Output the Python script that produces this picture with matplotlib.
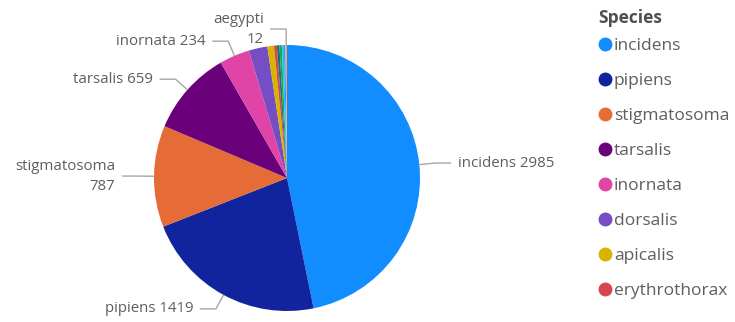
import numpy as np
import matplotlib
matplotlib.use("Agg")
import matplotlib.pyplot as plt
from matplotlib.lines import Line2D

plt.rcParams['font.family'] = ['Open Sans', 'DejaVu Sans']

# Species counts (sorted descending, drawn clockwise from the top)
species = ["incidens", "pipiens", "stigmatosoma", "tarsalis", "inornata",
           "dorsalis", "apicalis", "erythrothorax", "vexans", "melanimon",
           "particeps", "quinquefasciatus", "aegypti"]
counts = [2985, 1419, 787, 659, 234, 144, 51, 22, 20, 18, 15, 13, 12]
colors = ["#118DFF", "#12239E", "#E66C37", "#6B007B", "#E044A7", "#744EC2",
          "#D9B300", "#D64550", "#197278", "#1AAB40", "#15C6F4", "#4092FF",
          "#FFA058"]
# slice labels shown on the chart (None = no label)
slice_labels = ["incidens 2985", "pipiens 1419", "stigmatosoma\n787",
                "tarsalis 659", "inornata 234", None, None, None, None, None,
                None, None, "aegypti\n12"]
legend_names = species[:8]

fig = plt.figure(figsize=(7.35, 3.22), dpi=100)
ax = fig.add_axes([154 / 735, 11 / 322, 266 / 735, 266 / 322])

wedges, _ = ax.pie(counts, colors=colors, startangle=90, counterclock=False,
                   radius=1.0, wedgeprops=dict(linewidth=0))
ax.set_xlim(-1, 1)
ax.set_ylim(-1, 1)
ax.set_aspect('equal')
ax.axis('off')

line_color = "#A6A6A6"
text_color = "#605E5C"
for w, lab in zip(wedges, slice_labels):
    if lab is None:
        continue
    ang = np.deg2rad((w.theta1 + w.theta2) / 2)
    x0, y0 = np.cos(ang), np.sin(ang)
    xe, ye = 1.12 * x0, 1.12 * y0
    side = 1 if x0 > 0 else -1
    xh = xe + side * 0.12
    ax.plot([1.0 * x0, xe, xh], [y0, ye, ye], color=line_color, lw=1,
            clip_on=False, solid_capstyle='butt')
    ax.text(xh + side * 0.05, ye, lab, ha='left' if side > 0 else 'right',
            va='center', multialignment='right', fontsize=10.8,
            color=text_color, linespacing=1.45)

# legend (title drawn separately to match spacing)
fig.text(598 / 735, 1 - 18 / 322, "Species", ha='left', va='center',
         fontsize=12.5, fontweight='bold', color="#505050")
handles = [Line2D([], [], marker='o', linestyle='', markersize=9,
                  markerfacecolor=c, markeredgecolor=c) for c in colors[:8]]
leg = fig.legend(handles, legend_names, loc='upper left',
                 bbox_to_anchor=(599 / 735, 1 - 38 / 322), frameon=False,
                 fontsize=12.5, handlelength=0.7, handletextpad=0.15,
                 labelspacing=1.086, borderpad=0, borderaxespad=0)
for t in leg.get_texts():
    t.set_color(text_color)

fig.savefig("out.png", dpi=100)
